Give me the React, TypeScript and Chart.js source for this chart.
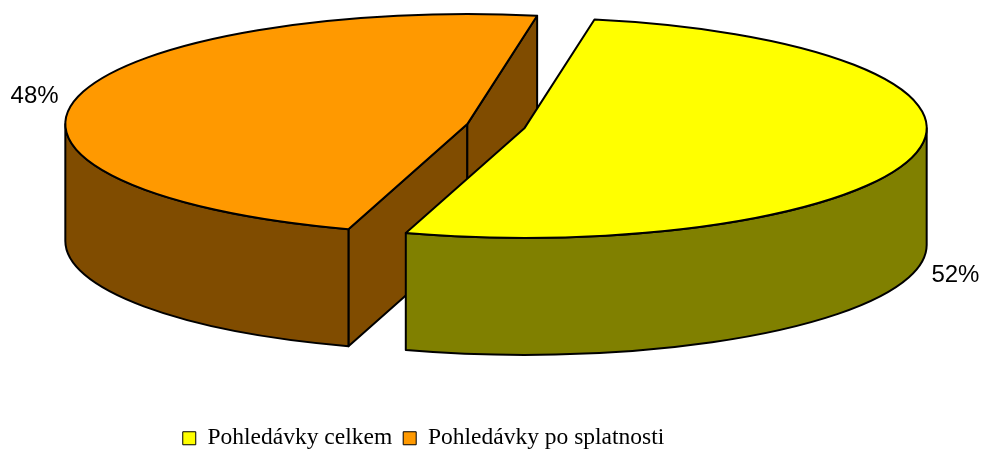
import React, { useEffect, useRef } from 'react';
import { Chart, registerables } from 'chart.js';

Chart.register(...registerables);

// ---- data ----
const categories = ['Pohledávky celkem', 'Pohledávky po splatnosti'];
const values = [52, 48];
const topColors = ['#FFFF00', '#FF9900'];
const sideColors = ['#808000', '#804C00'];

// ---- 3D pie geometry (layout constants) ----
const GEO = { cx: 496, cy: 126, rx: 402, ry: 110, depth: 117, explode: 29.5, lineWidth: 2 };

const pie3d = {
  id: 'pie3d',
  beforeDatasetsDraw(chart: any) {
    const meta = chart.getDatasetMeta(0);
    const ctx: CanvasRenderingContext2D = chart.ctx;
    const ds = chart.data.datasets[0];
    const data: number[] = ds.data;
    const total = data.reduce((a: number, b: number) => a + b, 0);
    const { cx, cy, rx, ry, depth, explode } = GEO;
    const tilt = ry / rx;
    const TAU = Math.PI * 2;

    const slices = meta.data.map((arc: any, i: number) => {
      const a0 = arc.startAngle;
      const a1 = arc.endAngle;
      const m = (a0 + a1) / 2;
      return {
        i, a0, a1, m,
        ox: cx + explode * Math.cos(m),
        oy: cy + explode * Math.sin(m) * tilt,
        top: arc.options.backgroundColor,
        side: sideColors[i % sideColors.length],
      };
    }).sort((p: any, q: any) => Math.sin(p.m) - Math.sin(q.m));

    ctx.save();
    ctx.strokeStyle = '#000';
    ctx.lineWidth = GEO.lineWidth;
    ctx.lineJoin = 'round';

    for (const s of slices) {
      const rim = (t: number, dy = 0): [number, number] => [s.ox + rx * Math.cos(t), s.oy + ry * Math.sin(t) + dy];
      const wall = (t: number) => {
        const [x, y] = rim(t);
        ctx.beginPath();
        ctx.moveTo(s.ox, s.oy);
        ctx.lineTo(x, y);
        ctx.lineTo(x, y + depth);
        ctx.lineTo(s.ox, s.oy + depth);
        ctx.closePath();
        ctx.fillStyle = s.side;
        ctx.fill();
        ctx.stroke();
      };
      if (s.a1 - s.a0 < TAU - 1e-6) {
        if (Math.cos(s.a0) < 0) wall(s.a0);
        if (Math.cos(s.a1) > 0) wall(s.a1);
      }
      // curved outer side (front half only)
      for (let k = Math.floor(s.a0 / TAU) - 1; k <= Math.floor(s.a1 / TAU) + 1; k++) {
        const lo = Math.max(s.a0, k * TAU);
        const hi = Math.min(s.a1, k * TAU + Math.PI);
        if (hi > lo) {
          ctx.beginPath();
          ctx.ellipse(s.ox, s.oy, rx, ry, 0, lo, hi, false);
          ctx.ellipse(s.ox, s.oy + depth, rx, ry, 0, hi, lo, true);
          ctx.closePath();
          ctx.fillStyle = s.side;
          ctx.fill();
          ctx.stroke();
        }
      }
      // top face
      ctx.beginPath();
      ctx.moveTo(s.ox, s.oy);
      ctx.ellipse(s.ox, s.oy, rx, ry, 0, s.a0, s.a1, false);
      ctx.closePath();
      ctx.fillStyle = s.top;
      ctx.fill();
      ctx.stroke();
    }

    // percentage labels
    ctx.fillStyle = '#000';
    ctx.font = "24px 'Liberation Sans', Arial, sans-serif";
    ctx.textBaseline = 'middle';
    for (const s of slices) {
      const pct = Math.round((data[s.i] / total) * 100) + '%';
      const x = s.ox + rx * Math.cos(s.m);
      let y = s.oy + ry * Math.sin(s.m);
      const front = Math.sin(s.m) > 0;
      y += front ? depth + 5 : -2;
      const right = Math.cos(s.m) >= 0;
      ctx.textAlign = right ? 'left' : 'right';
      ctx.fillText(pct, x + (right ? 16 : -18), y);
    }
    ctx.restore();
    return false;
  },
};

export default function App() {
  const ref = useRef<HTMLCanvasElement | null>(null);
  useEffect(() => {
    if (!ref.current) return;
    const chart = new Chart(ref.current, {
      type: 'pie',
      data: {
        labels: categories,
        datasets: [
          {
            data: values,
            backgroundColor: topColors,
            borderColor: '#000',
            borderWidth: 1,
          },
        ],
      },
      options: {
        responsive: false,
        animation: false,
        devicePixelRatio: 1,
        rotation: 10,
        layout: { padding: { left: 0, right: 137, top: 0, bottom: -9 } },
        plugins: {
          legend: {
            position: 'bottom',
            labels: {
              boxWidth: 13,
              boxHeight: 13,
              padding: 11,
              color: '#000',
              font: { family: "'Liberation Serif', 'Times New Roman', serif", size: 23.5 },
            },
          },
          tooltip: { enabled: false },
        },
      } as any,
      plugins: [pie3d as any],
    });
    return () => chart.destroy();
  }, []);
  return (
    <div style={{ position: 'fixed', left: 0, top: 0, width: 984, height: 451, background: '#fff' }}>
      <canvas ref={ref} width={984} height={451} style={{ display: 'block', width: 984, height: 451 }} />
    </div>
  );
}
